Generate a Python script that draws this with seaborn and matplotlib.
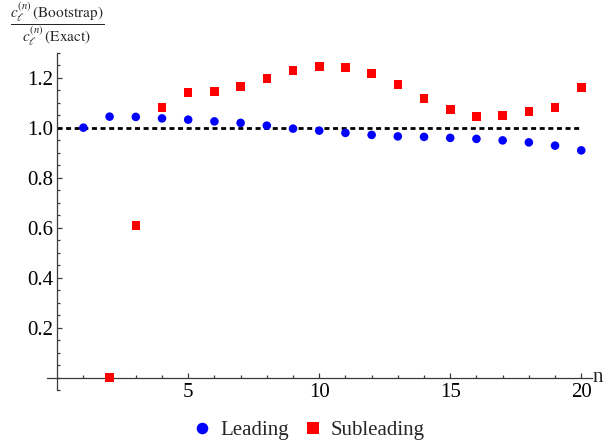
import numpy as np
import pandas as pd
import matplotlib
matplotlib.use("Agg")
import matplotlib.pyplot as plt
import seaborn as sns

# values
n_values = list(range(1, 21))
leading = [1.000, 1.044, 1.043, 1.037, 1.032, 1.025, 1.019, 1.008, 0.996, 0.988,
           0.979, 0.971, 0.965, 0.963, 0.959, 0.955, 0.949, 0.941, 0.928, 0.909]
sub_n = list(range(2, 21))
subleading = [0.000, 0.609, 1.081, 1.141, 1.145, 1.165, 1.197, 1.229, 1.245, 1.241,
              1.217, 1.173, 1.117, 1.072, 1.045, 1.049, 1.065, 1.081, 1.161]
series_names = ["Leading", "Subleading"]
x_major = [5, 10, 15, 20]
y_major = [0.2, 0.4, 0.6, 0.8, 1.0, 1.2]

sns.set_theme(style="white")
plt.rcParams["font.family"] = ["Liberation Serif", "DejaVu Serif"]
plt.rcParams["mathtext.fontset"] = "stix"

df = pd.concat([
    pd.DataFrame({"n": n_values, "ratio": leading, "series": series_names[0]}),
    pd.DataFrame({"n": sub_n, "ratio": subleading, "series": series_names[1]}),
])

fig = plt.figure(figsize=(6.13, 4.43), dpi=100)
ax = fig.add_axes([0.0762, 0.1196, 0.8891, 0.7615])

# reference line at 1
ax.plot([0, 20], [1, 1], color="black", lw=2.0, ls=(0, (1.8, 1.3)), zorder=1)

sns.scatterplot(data=df, x="n", y="ratio", hue="series", style="series",
                palette={"Leading": "blue", "Subleading": "red"},
                markers={"Leading": "o", "Subleading": "s"},
                s=38, linewidth=0, ax=ax, zorder=3, clip_on=False)

ax.set_xlim(-0.4, 20.4)
ax.set_ylim(-0.05, 1.3)
ax.spines["top"].set_visible(False)
ax.spines["right"].set_visible(False)
ax.spines["left"].set_position(("data", 0))
ax.spines["bottom"].set_position(("data", 0))
axis_col = "#3a3a3a"
for sp in ["left", "bottom"]:
    ax.spines[sp].set_color(axis_col)
    ax.spines[sp].set_linewidth(0.9)

ax.set_xticks(x_major)
ax.set_xticks([i for i in range(1, 21) if i not in x_major], minor=True)
ax.set_yticks(y_major)
ax.set_yticklabels([f"{v:.1f}" for v in y_major])
ax.set_yticks([round(-0.05 + 0.05 * i, 2) for i in range(28)
               if round(-0.05 + 0.05 * i, 2) not in y_major], minor=True)
ax.tick_params(which="both", direction="in", color=axis_col, width=0.9,
               labelsize=15, labelcolor="black", bottom=True, left=True)
ax.tick_params(which="major", length=3.6)
ax.tick_params(which="minor", length=2.2)
ax.tick_params(axis="x", pad=3.6)
ax.tick_params(axis="y", pad=3.0)
ax.set_xlabel("")
ax.set_ylabel("")
ax.grid(False)

ax.text(20.42, -0.019, "n", fontsize=15, ha="left", va="baseline")

fig.text(57 / 613, 1 - 24 / 443,
         r"$\dfrac{c_\ell^{(n)}\,\mathrm{(Bootstrap)}}{c_\ell^{(n)}\,\mathrm{(Exact)}}$",
         fontsize=11, ha="center", va="center")

sns.move_legend(ax, "center", bbox_to_anchor=(308 / 613, 1 - 430 / 443),
                bbox_transform=fig.transFigure, ncol=2, frameon=False,
                title=None, fontsize=15, handlelength=1.0, handletextpad=0.35,
                columnspacing=0.65, markerscale=1.35)

fig.savefig("out.png", dpi=100)
